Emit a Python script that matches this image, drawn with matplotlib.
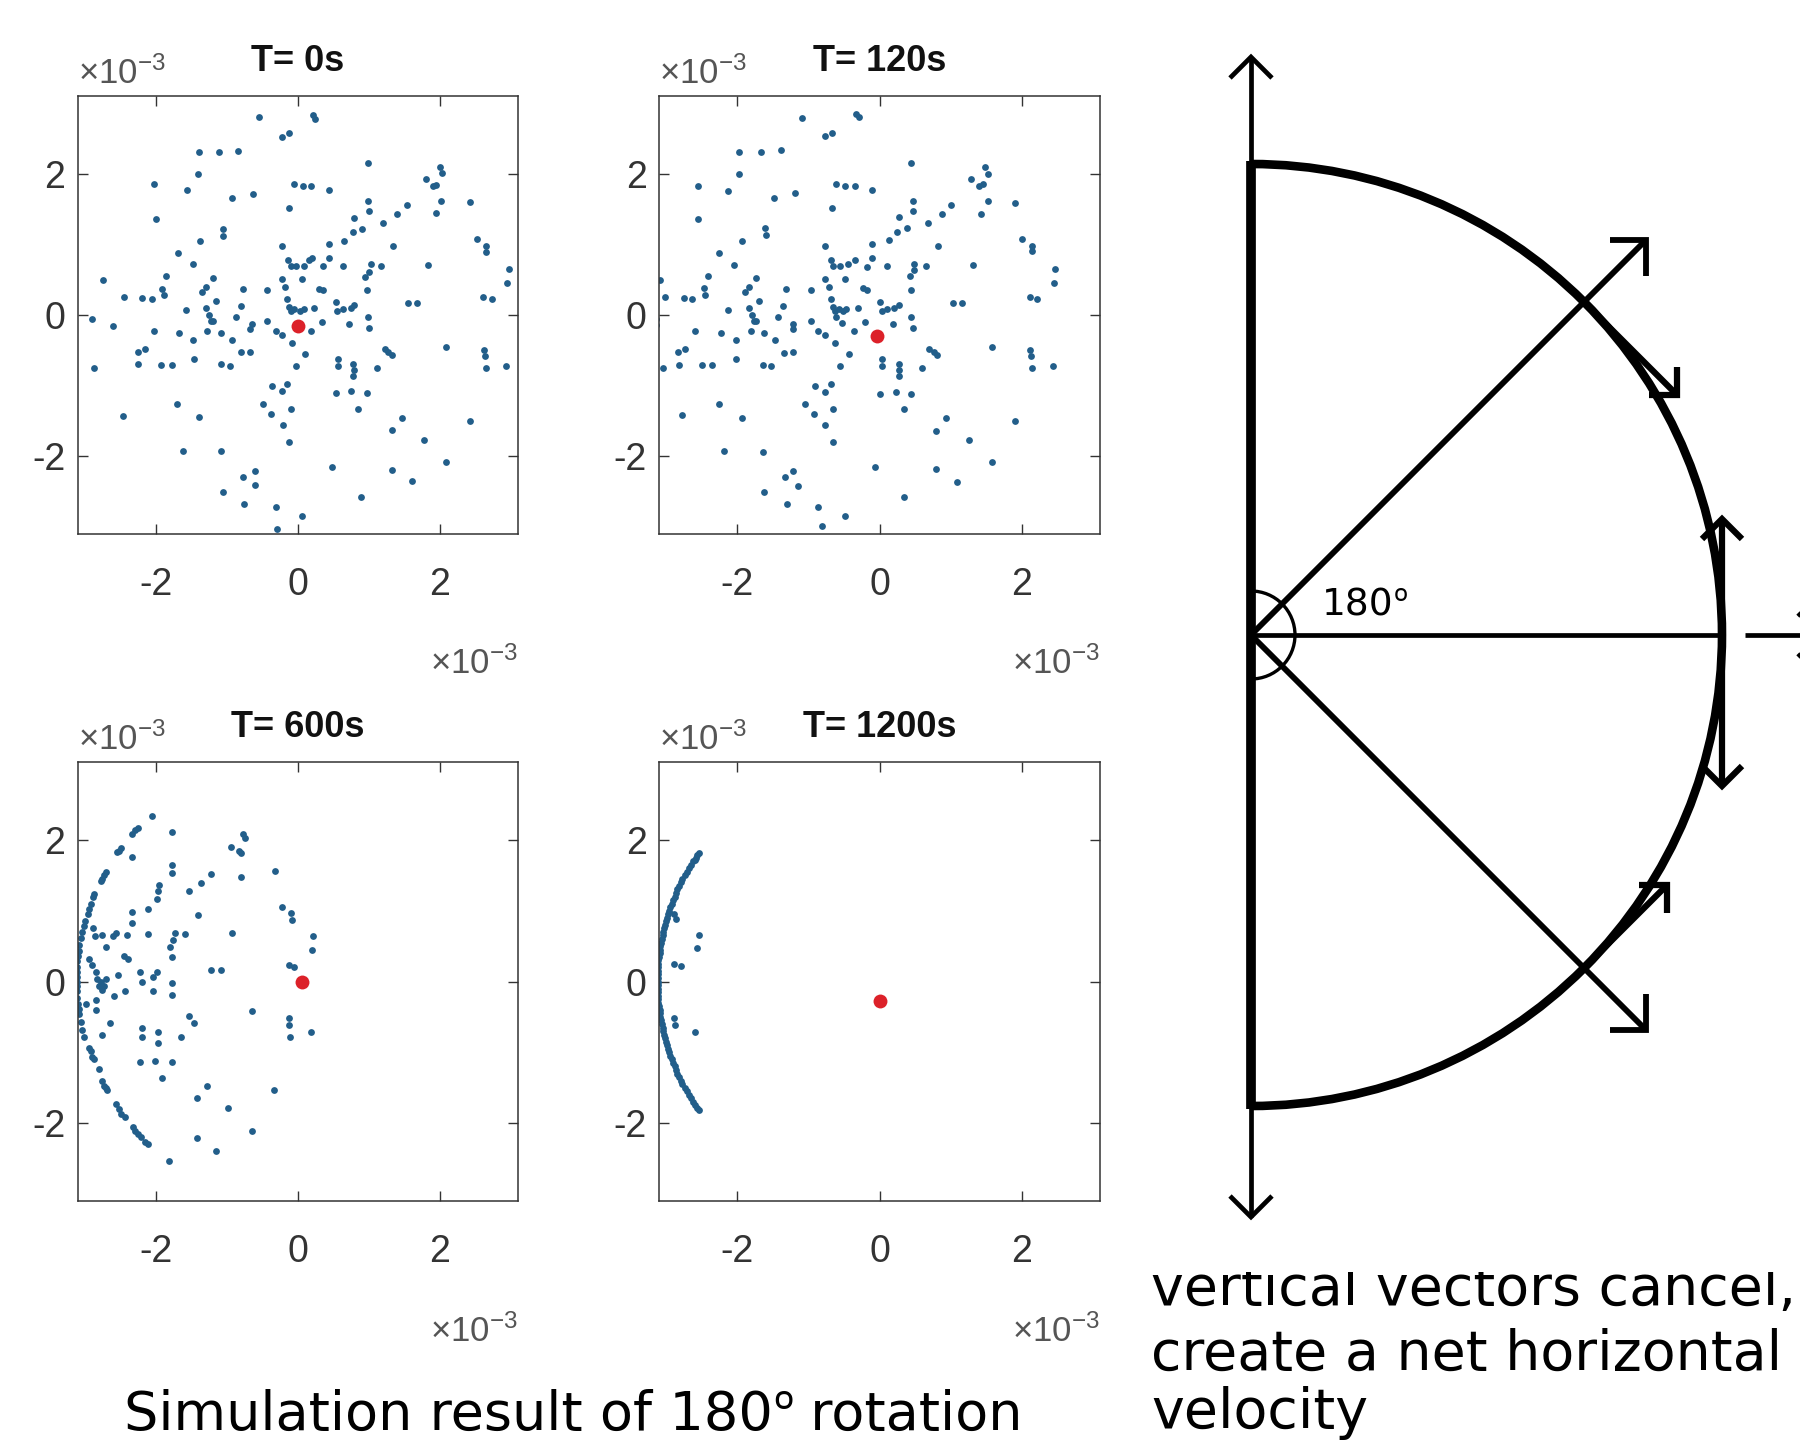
import numpy as np
import matplotlib
matplotlib.use('Agg')
from matplotlib import pyplot as plt
from matplotlib import font_manager
from matplotlib.patches import Arc, Rectangle

# ---- data (units of 1e-3) ----
t0_pts = [
    (-0.55, 2.80), (0.21, 2.83), (0.24, 2.77), (-0.22, 2.52), (-0.12, 2.58),
    (-1.40, 2.31), (-1.12, 2.31), (-0.84, 2.32), (-1.41, 1.99), (0.98, 2.15),
    (-2.03, 1.85), (-1.57, 1.77), (-0.64, 1.71), (-0.93, 1.66), (-0.06, 1.85),
    (0.07, 1.82), (0.19, 1.82), (0.43, 1.77), (-0.12, 1.51), (0.99, 1.62),
    (1.00, 1.47), (1.53, 1.56), (1.40, 1.43), (1.80, 1.92), (1.90, 1.82),
    (1.95, 1.84), (2.00, 2.09), (2.03, 2.01), (2.02, 1.62), (1.94, 1.44),
    (2.43, 1.60), (-2.00, 1.36), (-1.06, 1.22), (-1.05, 1.12), (0.79, 1.38),
    (0.90, 1.22), (0.77, 1.18), (1.20, 1.30), (-1.38, 1.05), (-0.23, 0.98),
    (0.43, 1.01), (0.65, 1.05), (1.34, 0.97), (2.52, 1.07), (2.65, 0.98),
    (2.65, 0.89), (-1.69, 0.88), (-1.48, 0.72), (-0.14, 0.78), (-0.10, 0.69),
    (-0.03, 0.69), (0.09, 0.69), (0.15, 0.78), (0.20, 0.81), (0.43, 0.81),
    (0.35, 0.69), (0.64, 0.69), (1.03, 0.72), (1.00, 0.61), (0.95, 0.54),
    (1.17, 0.69), (1.83, 0.71), (2.97, 0.65), (2.94, 0.46), (-2.75, 0.49),
    (-1.86, 0.55), (-1.92, 0.37), (-1.89, 0.29), (-1.20, 0.52), (-1.30, 0.40),
    (-1.35, 0.32), (-0.77, 0.37), (-0.43, 0.36), (-0.22, 0.51), (-0.18, 0.40),
    (0.05, 0.51), (0.30, 0.37), (0.35, 0.35), (0.97, 0.36), (-2.45, 0.25),
    (-2.20, 0.24), (-2.06, 0.22), (-1.16, 0.20), (-1.30, 0.10), (-1.25, 0.00),
    (-1.23, -0.09), (-1.28, -0.23), (-1.58, 0.07), (-0.80, 0.13), (-0.88, -0.03),
    (-0.15, 0.23), (-0.12, 0.12), (-0.10, 0.06), (-0.05, 0.09), (0.03, 0.06),
    (0.08, 0.09), (0.23, 0.10), (0.53, 0.18), (0.55, 0.06), (0.64, 0.09),
    (0.75, 0.10), (0.79, 0.14), (0.99, -0.03), (1.00, -0.19), (1.55, 0.17),
    (1.68, 0.17), (2.60, 0.25), (2.73, 0.23), (-2.90, -0.06), (-2.60, -0.16),
    (-2.03, -0.22), (-1.68, -0.26), (-1.48, -0.35), (-1.20, -0.09), (-1.08, -0.26),
    (-0.93, -0.35), (-0.65, -0.13), (-0.68, -0.20), (-0.43, -0.09), (-0.31, -0.22),
    (-0.22, -0.28), (-0.08, -0.39), (0.18, -0.22), (0.34, -0.10), (0.72, -0.13),
    (2.09, -0.45), (-2.26, -0.52), (-2.16, -0.48), (-2.25, -0.70), (-2.88, -0.75),
    (-1.93, -0.71), (-1.78, -0.71), (-1.47, -0.62), (-1.08, -0.70), (-0.96, -0.72),
    (-0.80, -0.53), (-0.67, -0.53), (0.10, -0.55), (-0.03, -0.72), (0.57, -0.62),
    (0.57, -0.72), (0.78, -0.69), (0.79, -0.78), (0.78, -0.87), (1.12, -0.75),
    (1.23, -0.48), (1.27, -0.52), (1.32, -0.56), (2.62, -0.50), (2.64, -0.58),
    (2.65, -0.75), (2.93, -0.72), (-0.36, -1.00), (-0.23, -1.08), (-0.16, -0.98),
    (0.54, -1.10), (0.75, -1.08), (0.97, -1.11), (-1.70, -1.26), (-0.50, -1.26),
    (-0.38, -1.40), (-0.10, -1.33), (0.85, -1.33), (-2.46, -1.43), (-1.39, -1.45),
    (-0.21, -1.55), (1.47, -1.46), (1.33, -1.63), (2.42, -1.50), (-1.62, -1.92),
    (-1.09, -1.92), (-0.13, -1.80), (1.78, -1.77), (0.48, -2.15), (2.09, -2.08),
    (1.33, -2.19), (-0.78, -2.29), (-0.61, -2.21), (-0.61, -2.41), (-1.06, -2.51),
    (1.60, -2.35), (0.89, -2.57), (-0.76, -2.67), (-0.31, -2.72), (0.06, -2.85),
    (-0.29, -3.03),
]
t0_red = (0.00, -0.16)

t120_pts = [
    (-1.09, 2.79), (-0.33, 2.85), (-0.29, 2.80), (-0.77, 2.53), (-0.67, 2.58),
    (-1.97, 2.31), (-1.67, 2.31), (-1.39, 2.33), (-1.97, 1.99), (0.44, 2.15),
    (-2.55, 1.83), (-2.13, 1.76), (-1.19, 1.72), (-1.48, 1.65), (-0.61, 1.85),
    (-0.48, 1.82), (-0.35, 1.82), (-0.11, 1.77), (-0.67, 1.51), (0.47, 1.62),
    (0.47, 1.47), (1.01, 1.56), (0.88, 1.43), (1.29, 1.92), (1.40, 1.82),
    (1.45, 1.85), (1.48, 2.09), (1.53, 1.99), (1.52, 1.61), (1.43, 1.43),
    (1.91, 1.59), (-2.55, 1.36), (-1.61, 1.23), (-1.60, 1.13), (0.27, 1.39),
    (0.38, 1.23), (0.24, 1.18), (0.68, 1.30), (-1.93, 1.05), (-0.77, 0.98),
    (-0.11, 1.01), (0.13, 1.06), (0.82, 0.97), (2.01, 1.08), (2.14, 0.98),
    (2.15, 0.91), (-2.26, 0.88), (-2.04, 0.71), (-0.68, 0.78), (-0.65, 0.69),
    (-0.56, 0.69), (-0.44, 0.72), (-0.35, 0.78), (-0.10, 0.81), (-0.17, 0.68),
    (0.11, 0.69), (0.49, 0.72), (0.48, 0.64), (0.43, 0.55), (0.65, 0.69),
    (1.31, 0.71), (2.47, 0.65), (2.45, 0.46), (-3.09, 0.49), (-2.41, 0.55),
    (-2.47, 0.38), (-2.45, 0.29), (-1.73, 0.52), (-1.83, 0.40), (-1.89, 0.32),
    (-1.31, 0.37), (-0.97, 0.36), (-0.76, 0.51), (-0.71, 0.40), (-0.49, 0.51),
    (-0.23, 0.38), (-0.18, 0.35), (0.44, 0.36), (-3.02, 0.25), (-2.75, 0.24),
    (-2.63, 0.22), (-1.69, 0.20), (-1.84, 0.10), (-1.79, 0.00), (-1.77, -0.09),
    (-1.81, -0.23), (-2.13, 0.07), (-1.35, 0.13), (-1.43, -0.03), (-0.68, 0.23),
    (-0.65, 0.12), (-0.62, 0.06), (-0.57, 0.09), (-0.51, 0.06), (-0.47, 0.09),
    (-0.53, -0.12), (-0.61, -0.03), (-0.30, 0.10), (0.00, 0.18), (0.03, 0.06),
    (0.11, 0.09), (0.20, 0.10), (0.27, 0.14), (0.44, -0.03), (0.47, -0.19),
    (1.04, 0.17), (1.16, 0.17), (2.11, 0.25), (2.22, 0.23), (-3.14, -0.06),
    (-3.14, -0.14), (-2.59, -0.22), (-2.23, -0.26), (-2.02, -0.35), (-1.73, -0.09),
    (-1.63, -0.26), (-1.47, -0.35), (-1.21, -0.13), (-1.22, -0.20), (-0.97, -0.09),
    (-0.86, -0.23), (-0.76, -0.28), (-0.62, -0.39), (-0.36, -0.22), (-0.20, -0.10),
    (0.19, -0.13), (1.58, -0.45), (-2.83, -0.52), (-2.73, -0.48), (-2.82, -0.71),
    (-3.05, -0.75), (-2.50, -0.71), (-2.35, -0.71), (-2.02, -0.62), (-1.64, -0.71),
    (-1.52, -0.72), (-1.34, -0.54), (-1.21, -0.53), (-0.43, -0.55), (-0.56, -0.72),
    (0.04, -0.62), (0.04, -0.72), (0.27, -0.69), (0.27, -0.78), (0.27, -0.87),
    (0.60, -0.75), (0.70, -0.48), (0.76, -0.52), (0.81, -0.56), (2.11, -0.50),
    (2.13, -0.58), (2.15, -0.75), (2.44, -0.72), (-0.90, -1.00), (-0.77, -1.09),
    (-0.68, -0.98), (0.00, -1.12), (0.23, -1.09), (0.44, -1.12), (-2.26, -1.26),
    (-1.05, -1.26), (-0.92, -1.40), (-0.65, -1.33), (0.34, -1.33), (-2.78, -1.42),
    (-1.94, -1.46), (-0.77, -1.55), (0.93, -1.46), (0.80, -1.64), (1.90, -1.50),
    (-2.19, -1.92), (-1.64, -1.94), (-0.66, -1.80), (1.26, -1.77), (-0.06, -2.15),
    (1.58, -2.08), (0.80, -2.18), (-1.33, -2.29), (-1.21, -2.21), (-1.15, -2.42),
    (-1.62, -2.51), (1.09, -2.36), (0.35, -2.57), (-1.30, -2.68), (-0.86, -2.72),
    (-0.49, -2.85), (-0.81, -2.99),
]
t120_red = (-0.03, -0.30)

t600_pts = [
    # particles piled up on the left rim
    (-2.06, 2.34), (-2.25, 2.17), (-2.29, 2.14), (-2.34, 2.08), (-2.49, 1.88),
    (-2.52, 1.85), (-2.55, 1.83), (-2.71, 1.55), (-2.74, 1.50), (-2.76, 1.45),
    (-2.78, 1.42), (-2.87, 1.23), (-2.89, 1.19), (-2.92, 1.10), (-2.94, 1.03),
    (-2.96, 0.95), (-3.00, 0.85), (-3.02, 0.78), (-3.05, 0.70), (-3.06, 0.61),
    (-3.08, 0.52), (-3.09, 0.43), (-3.10, 0.36), (-3.11, 0.29), (-3.11, 0.21),
    (-3.12, 0.14), (-3.12, 0.07), (-3.12, 0.00), (-3.12, -0.07), (-3.12, -0.14),
    (-3.11, -0.23), (-3.10, -0.32), (-3.09, -0.39), (-3.08, -0.46), (-3.06, -0.57),
    (-3.04, -0.69), (-3.02, -0.78), (-2.94, -0.94), (-2.92, -0.98), (-2.90, -1.07),
    (-2.88, -1.10), (-2.81, -1.24), (-2.76, -1.40), (-2.73, -1.47), (-2.71, -1.50),
    (-2.69, -1.53), (-2.56, -1.73), (-2.52, -1.80), (-2.49, -1.87), (-2.44, -1.92),
    (-2.33, -2.06), (-2.29, -2.11), (-2.25, -2.15), (-2.21, -2.20), (-2.16, -2.26),
    (-2.11, -2.30),
    # particles still inside
    (-1.78, 2.11), (-2.34, 1.76), (-0.94, 1.90), (-0.78, 2.08), (-0.75, 2.02),
    (-0.80, 1.82), (-0.83, 1.85), (-0.33, 1.56), (-1.23, 1.52), (-1.77, 1.65),
    (-1.77, 1.53), (-1.36, 1.39), (-0.81, 1.47), (-1.96, 1.36), (-1.97, 1.28),
    (-1.54, 1.28), (-1.99, 1.17), (-2.11, 1.02), (-2.34, 0.98), (-2.34, 0.82),
    (-1.41, 0.94), (-0.22, 1.05), (-0.10, 0.97), (-0.09, 0.87), (-2.89, 0.75),
    (-2.86, 0.64), (-2.76, 0.66), (-2.56, 0.69), (-2.61, 0.64), (-2.41, 0.65),
    (-2.12, 0.67), (-1.73, 0.69), (-1.76, 0.58), (-1.81, 0.49), (-1.59, 0.67),
    (-0.93, 0.69), (0.21, 0.64), (0.20, 0.45), (-2.71, 0.49), (-1.78, 0.35),
    (-2.45, 0.36), (-2.40, 0.32), (-2.94, 0.32), (-2.90, 0.23), (-2.85, 0.14),
    (-2.83, 0.03), (-2.78, 0.00), (-2.73, -0.06), (-2.80, -0.06), (-2.70, 0.03),
    (-2.54, 0.09), (-2.22, 0.14), (-2.20, 0.00), (-1.98, 0.13), (-2.05, 0.06),
    (-1.22, 0.16), (-1.08, 0.16), (-0.13, 0.23), (-0.05, 0.20), (-1.77, -0.02),
    (-2.44, -0.13), (-2.05, -0.14), (-1.77, -0.19), (-2.99, -0.32), (-2.84, -0.26),
    (-2.76, -0.12), (-2.59, -0.20), (-2.84, -0.40), (-2.65, -0.58), (-2.76, -0.75),
    (-0.65, -0.42), (-1.53, -0.49), (-1.46, -0.58), (-0.13, -0.52), (-0.12, -0.61),
    (-0.11, -0.78), (0.19, -0.71), (-2.20, -0.65), (-2.20, -0.78), (-1.97, -0.72),
    (-1.97, -0.87), (-1.65, -0.79), (-2.23, -1.14), (-2.01, -1.12), (-1.78, -1.14),
    (-1.91, -1.36), (-1.28, -1.47), (-1.42, -1.65), (-0.34, -1.53), (-0.98, -1.79),
    (-0.65, -2.11), (-1.43, -2.21), (-1.16, -2.40), (-1.82, -2.54),
]
t600_red = (0.05, 0.00)

t1200_pts = [
    (-2.54, 1.81), (-2.56, 1.78), (-2.58, 1.75), (-2.60, 1.72), (-2.62, 1.70),
    (-2.65, 1.65), (-2.68, 1.60), (-2.71, 1.55), (-2.74, 1.50), (-2.77, 1.45),
    (-2.79, 1.40), (-2.82, 1.35), (-2.84, 1.30), (-2.86, 1.25), (-2.88, 1.20),
    (-2.90, 1.15), (-2.92, 1.10), (-2.94, 1.05), (-2.96, 1.00), (-2.97, 0.95),
    (-2.99, 0.90), (-3.00, 0.85), (-3.02, 0.80), (-3.03, 0.75), (-3.04, 0.70),
    (-3.05, 0.65), (-3.06, 0.60), (-3.07, 0.55), (-3.08, 0.50), (-3.09, 0.45),
    (-3.09, 0.40), (-3.10, 0.35), (-3.11, 0.30), (-3.11, 0.25), (-3.11, 0.20),
    (-3.12, 0.15), (-3.12, 0.10), (-3.12, 0.05), (-3.12, 0.00), (-3.12, -0.05),
    (-3.12, -0.10), (-3.12, -0.15), (-3.11, -0.20), (-3.11, -0.25), (-3.11, -0.30),
    (-3.10, -0.35), (-3.09, -0.40), (-3.09, -0.45), (-3.08, -0.50), (-3.07, -0.55),
    (-3.06, -0.60), (-3.05, -0.65), (-3.04, -0.70), (-3.03, -0.75), (-3.02, -0.80),
    (-3.00, -0.85), (-2.99, -0.90), (-2.97, -0.95), (-2.96, -1.00), (-2.94, -1.05),
    (-2.92, -1.10), (-2.90, -1.15), (-2.88, -1.20), (-2.86, -1.25), (-2.84, -1.30),
    (-2.82, -1.35), (-2.79, -1.40), (-2.77, -1.45), (-2.74, -1.50), (-2.71, -1.55),
    (-2.68, -1.60), (-2.65, -1.65), (-2.62, -1.70), (-2.60, -1.74), (-2.57, -1.78),
    (-2.54, -1.82),
    (-2.89, 0.95), (-2.86, 0.88), (-2.54, 0.66), (-2.56, 0.47), (-2.89, 0.25),
    (-2.79, 0.22), (-2.89, -0.51), (-2.87, -0.61), (-2.59, -0.72),
]
t1200_red = (0.00, -0.27)

titles = ['T= 0s', 'T= 120s', 'T= 600s', 'T= 1200s']
ticks = [-2, 0, 2]
tick_labels = ['-2', '0', '2']

# ---- styling ----
W, H = 1800, 1446
DOT = '#225e8a'
RED = '#dc2129'
GRAY = '#333333'
EXP_GRAY = '#555555'

installed = {f.name for f in font_manager.fontManager.ttflist}
if 'Liberation Sans Narrow' in installed:
    mfont, tsize, ttl_size, esize = 'Liberation Sans Narrow', 30, 30, 28
else:
    mfont, tsize, ttl_size, esize = 'Liberation Sans', 27, 26, 25
ord_font = 'Open Sans' if 'Open Sans' in installed else 'DejaVu Sans'

plt.rcParams['axes.unicode_minus'] = False
plt.rcParams['mathtext.fontset'] = 'custom'
plt.rcParams['mathtext.rm'] = mfont
plt.rcParams['mathtext.it'] = mfont + ':italic'
plt.rcParams['mathtext.bf'] = mfont + ':bold'

fig = plt.figure(figsize=(W / 100, H / 100), dpi=100)

# pixel boxes (left, top, right, bottom) of the four panels
boxes = [(78, 96, 518, 534), (659, 96, 1100, 534),
         (78, 762, 518, 1201), (659, 762, 1100, 1201)]
EXP = r'$\mathrm{\times10^{-3}}$'


def draw_panel(box, pts, red, title):
    l, t, r, b = box
    ax = fig.add_axes([l / W, 1 - b / H, (r - l) / W, (b - t) / H])
    x, y = np.array(pts).T
    ax.scatter(x, y, s=24, color=DOT, lw=0, zorder=2)
    ax.scatter([red[0]], [red[1]], s=100, color=RED, lw=0, zorder=3)
    ax.set_xlim(-3.1, 3.1)
    ax.set_ylim(-3.1, 3.1)
    ax.set_xticks(ticks)
    ax.set_yticks(ticks)
    ax.set_xticklabels(tick_labels, fontfamily=mfont)
    ax.set_yticklabels(tick_labels, fontfamily=mfont)
    ax.tick_params(direction='in', top=True, right=True, length=7, width=1,
                   color=GRAY, labelsize=tsize, labelcolor=GRAY)
    ax.tick_params(axis='x', pad=24)
    ax.tick_params(axis='y', pad=9)
    for sp in ax.spines.values():
        sp.set_color(GRAY)
        sp.set_linewidth(1.1)
    ax.set_title(title, fontsize=ttl_size, fontweight='bold', pad=18,
                 fontfamily=mfont, color='#111111')
    ax.text(0.0, 1.027, EXP, transform=ax.transAxes, ha='left', va='baseline',
            fontsize=esize, color=EXP_GRAY)
    ax.text(1.0, -0.32, EXP, transform=ax.transAxes, ha='right', va='baseline',
            fontsize=esize, color=EXP_GRAY)
    return ax


panels = [(t0_pts, t0_red), (t120_pts, t120_red),
          (t600_pts, t600_red), (t1200_pts, t1200_red)]
for box, (pts, red), title in zip(boxes, panels, titles):
    draw_panel(box, pts, red, title)

# ---- right-hand sketch, drawn in figure pixels ----
dax = fig.add_axes([0, 0, 1, 1], zorder=-1)
dax.set_xlim(0, W)
dax.set_ylim(H, 0)
dax.axis('off')
dax.patch.set_alpha(0)
renderer = fig.canvas.get_renderer()

cx, cy, rad = 1251, 635, 471


def open_arrow(ax, p0, p1, lw, head=26):
    p0 = np.asarray(p0, float)
    p1 = np.asarray(p1, float)
    d = (p1 - p0) / np.hypot(*(p1 - p0))
    n = np.array([-d[1], d[0]])
    back = p1 - d * head
    ax.plot([p0[0], p1[0]], [p0[1], p1[1]], color='k', lw=lw,
            solid_capstyle='butt')
    wing1 = back + n * head
    wing2 = back - n * head
    ax.plot([wing1[0], p1[0], wing2[0]], [wing1[1], p1[1], wing2[1]],
            color='k', lw=lw, solid_joinstyle='miter', solid_capstyle='butt')


def ordinal_text(ax, x, y, s, size, **kw):
    # the main face draws º with an underline, so that sign gets another face
    parts = s.split('º')
    cur = x
    for i, part in enumerate(parts):
        if part:
            t = ax.text(cur, y, part, fontsize=size, family='DejaVu Sans',
                        ha='left', va='baseline', **kw)
            cur = t.get_window_extent(renderer).x1
        if i < len(parts) - 1:
            t = ax.text(cur, y, 'º', fontsize=size, family=ord_font,
                        ha='left', va='baseline', **kw)
            cur = t.get_window_extent(renderer).x1


# vertical axis: thin with arrows, thick between the ends of the arc
open_arrow(dax, (cx, cy), (cx, 57), 3.4, head=21)
open_arrow(dax, (cx, cy), (cx, 1217), 3.4, head=21)
dax.plot([cx, cx], [cy - rad - 3, cy + rad + 3], color='k', lw=7.0,
         solid_capstyle='butt')

# half circle
dax.add_patch(Arc((cx, cy), 2 * rad, 2 * rad, theta1=-90, theta2=90,
                  color='k', lw=6.2))
# angle mark
dax.add_patch(Arc((cx, cy), 88, 88, theta1=-90, theta2=90, color='k', lw=2.4))
ordinal_text(dax, 1322, 616, '180º', 27)

# radial lines
dax.plot([cx, cx + rad], [cy, cy], color='k', lw=3.4)
ang = np.deg2rad(45)
open_arrow(dax, (cx, cy), (cx + 558 * np.cos(ang), cy - 558 * np.sin(ang)), 4.2, head=25)
open_arrow(dax, (cx, cy), (cx + 558 * np.cos(ang), cy + 558 * np.sin(ang)), 4.2, head=25)
# net horizontal arrow at the right edge
open_arrow(dax, (1745, cy), (1820, cy), 3.4, head=22)

# tangent arrows on the rim
pu = (cx + rad * np.cos(ang), cy - rad * np.sin(ang))
pl = (cx + rad * np.cos(ang), cy + rad * np.sin(ang))
open_arrow(dax, pu, (pu[0] + 93, pu[1] + 93), 4.5, head=20)
open_arrow(dax, pl, (pl[0] + 83, pl[1] - 83), 4.5, head=20)
open_arrow(dax, (cx + rad, cy), (cx + rad, 519), 4.5, head=20)
open_arrow(dax, (cx + rad, cy), (cx + rad, 786), 4.5, head=20)

# captions
ordinal_text(dax, 124, 1430, 'Simulation result of 180º rotation', 39)
cap_lines = ['vertical vectors cancel,', 'create a net horizontal', 'velocity']
for line, yb in zip(cap_lines, [1305, 1370, 1428]):
    dax.text(1151, yb, line, fontsize=40, ha='left', va='baseline',
             family='DejaVu Sans', zorder=5)
# the first caption line is cropped at the top in the original
dax.add_patch(Rectangle((1140, 1225), 660, 47, color='white', lw=0, zorder=6))

fig.savefig('out.png', dpi=100, facecolor='white')
